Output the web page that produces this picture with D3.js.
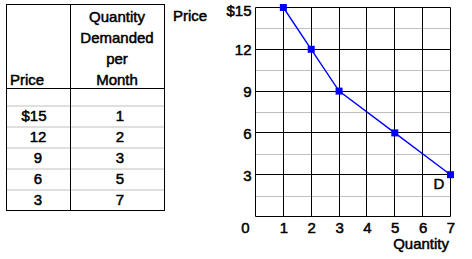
<!DOCTYPE html>
<html><head><meta charset="utf-8">
<script src="https://cdn.jsdelivr.net/npm/d3@7"></script>
<style>
html,body{margin:0;padding:0;background:#fff;}
text{font-family:"Liberation Sans",Arial,sans-serif;font-size:15px;fill:#000;stroke:#000;stroke-width:0.5px;}
</style></head>
<body><svg id="c" width="472" height="259"></svg>
<script>
const prices = [15, 12, 9, 6, 3];
const quantities = [1, 2, 3, 5, 7];
const priceLabels = ["$15", "12", "9", "6", "3"];
const headerPrice = ["Price"];
const headerQty = ["Quantity", "Demanded", "per", "Month"];
const yTicks = [3, 6, 9, 12, 15];
const yTickLabels = ["3", "6", "9", "12", "$15"];
const yMinor = [1.5, 4.5, 7.5, 10.5, 13.5];
const xTicks = [1, 2, 3, 4, 5, 6, 7];

const svg = d3.select("#c");

// ---- Table ----
const tb = {x0: 6, x1: 164, xm: 70.5, y0: 4.5, yh: 88.5, rowH: 21, y1: 210.5};
const tg = svg.append("g");
const rowY = d3.scaleLinear().domain([0, 1]).range([tb.yh + 17, tb.yh + 17 + tb.rowH]);
tg.selectAll("line.row").data(d3.range(prices.length)).join("line")
  .attr("x1", tb.x0).attr("x2", tb.x1)
  .attr("y1", i => rowY(i) + 0.5).attr("y2", i => rowY(i) + 0.5)
  .attr("stroke", "#c0c0c0").attr("stroke-width", 1);
tg.append("line").attr("x1", tb.x0).attr("x2", tb.x1).attr("y1", tb.yh).attr("y2", tb.yh).attr("stroke", "#000");
tg.append("line").attr("x1", tb.xm).attr("x2", tb.xm).attr("y1", tb.y0).attr("y2", tb.y1).attr("stroke", "#000");
tg.append("rect").attr("x", tb.x0 + 0.5).attr("y", tb.y0).attr("width", tb.x1 - tb.x0).attr("height", tb.y1 - tb.y0)
  .attr("fill", "none").attr("stroke", "#000");
tg.append("text").attr("x", 10).attr("y", 85).text(headerPrice[0]);
tg.selectAll("text.hq").data(headerQty).join("text").attr("class", "hq")
  .attr("x", 117).attr("y", (d, i) => 21.5 + i * 21.3).attr("text-anchor", "middle").text(d => d);
tg.selectAll("text.pv").data(priceLabels).join("text").attr("class", "pv")
  .attr("x", d => d[0] === "$" ? 34 : 38).attr("y", (d, i) => rowY(i) + 15.5)
  .attr("text-anchor", "middle").text(d => d);
tg.selectAll("text.qv").data(quantities).join("text").attr("class", "qv")
  .attr("x", 120).attr("y", (d, i) => rowY(i) + 15.5)
  .attr("text-anchor", "middle").text(d => d);

// ---- Chart ----
const x = d3.scaleLinear().domain([0, 7]).range([255.5, 450.5]);
const y = d3.scaleLinear().domain([0, 15]).range([216.5, 7.5]);
const cg = svg.append("g");
cg.selectAll("line.minor").data(yMinor).join("line")
  .attr("x1", x(0)).attr("x2", x(7)).attr("y1", d => Math.round(y(d)) + 0.5).attr("y2", d => Math.round(y(d)) + 0.5)
  .attr("stroke", "#c0c0c0");
cg.selectAll("line.hmaj").data([0].concat(yTicks)).join("line")
  .attr("x1", x(0)).attr("x2", x(7)).attr("y1", d => Math.round(y(d) - 0.5) + 0.5).attr("y2", d => Math.round(y(d) - 0.5) + 0.5)
  .attr("stroke", "#000");
cg.selectAll("line.vmaj").data([0].concat(xTicks)).join("line")
  .attr("x1", d => Math.round(x(d) - 0.5) + 0.5).attr("x2", d => Math.round(x(d) - 0.5) + 0.5)
  .attr("y1", y(15)).attr("y2", y(0))
  .attr("stroke", "#000");

const yAxis = d3.axisLeft(y).tickValues(yTicks).tickSize(0).tickPadding(4)
  .tickFormat((d, i) => yTickLabels[i]);
const ya = cg.append("g").attr("transform", `translate(${x(0)},0)`).call(yAxis);
ya.select(".domain").remove();
ya.selectAll("text").attr("font-size", null).attr("font-family", null).attr("fill", "#000")
  .attr("dy", d => d === 15 ? "0.5em" : "0.36em");
const xAxis = d3.axisBottom(x).tickValues(xTicks).tickSize(0).tickPadding(0).tickFormat(d3.format("d"));
const xa = cg.append("g").attr("transform", `translate(0,${y(0)})`).call(xAxis);
xa.select(".domain").remove();
xa.selectAll("text").attr("font-size", null).attr("font-family", null).attr("fill", "#000").attr("dy", "16px");
cg.append("text").attr("x", 245.5).attr("y", 232.5).attr("text-anchor", "middle").text("0");

cg.append("text").attr("x", 173).attr("y", 21).text("Price");
cg.append("text").attr("x", 449).attr("y", 249).attr("text-anchor", "end").text("Quantity");

const line = d3.line().x((d, i) => x(quantities[i])).y((d, i) => y(prices[i]));
cg.append("path").datum(prices).attr("d", line).attr("fill", "none").attr("stroke", "#0000ff").attr("stroke-width", 1.4);
cg.selectAll("rect.pt").data(prices).join("rect").attr("class", "pt")
  .attr("x", (d, i) => x(quantities[i]) - 3.5).attr("y", d => y(d) - 3.5)
  .attr("width", 7).attr("height", 7).attr("fill", "#0000ff");
cg.append("text").attr("x", 439).attr("y", 188.5).attr("text-anchor", "middle").text("D");
</script></body></html>
